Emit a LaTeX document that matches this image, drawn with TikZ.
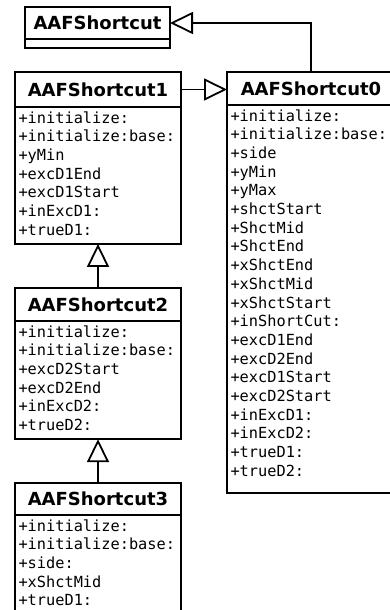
\documentclass[tikz,border=0pt]{standalone}
\usepackage{fontspec}
\usetikzlibrary{arrows.meta}
\newfontfamily\classfont{DejaVu Sans}
\newfontfamily\memberfont{DejaVu Sans Mono}

\begin{document}
\begin{tikzpicture}[x=1pt, y=-1pt,
    classname/.style={draw, line width=1.8pt, inner sep=0pt, outer sep=0pt, anchor=north west,
        font=\classfont\bfseries\fontsize{18}{21}\selectfont},
    members/.style={draw, line width=1.8pt, outer sep=0pt, anchor=north west, align=left,
        inner xsep=3.5pt, inner ysep=3pt,
        font=\memberfont\fontsize{15.3}{18.7}\selectfont,
        execute at begin node=\strut, execute at end node=\strut},
    inherit/.style={line width=1.8pt, -{Triangle[open, length=23pt, width=22pt]}}]

\useasboundingbox (0,0) rectangle (390,610);
\clip (0,0) rectangle (390,610);

% base class
\node[classname, minimum width=145pt, minimum height=32pt] (base) at (25,7) {AAFShortcut};
\node[draw, line width=1.8pt, outer sep=0pt, anchor=north west, inner sep=0pt,
    minimum width=145pt, minimum height=9pt] (baseattr) at (base.south west) {};

% AAFShortcut0
\node[classname, minimum width=168pt, minimum height=33pt] (c0) at (227,72) {AAFShortcut0};
\node[members, text width=161pt] (c0attr) at (c0.south west)
    {+initialize:\\+initialize:base:\\+side\\+yMin\\+yMax\\+shctStart\\+ShctMid\\+ShctEnd\\
     +xShctEnd\\+xShctMid\\+xShctStart\\+inShortCut:\\+excD1End\\+excD2End\\+excD1Start\\
     +excD2Start\\+inExcD1:\\+inExcD2:\\+trueD1:\\+trueD2:\rule[-14pt]{0pt}{0pt}};

% AAFShortcut1
\node[classname, minimum width=166pt, minimum height=35pt] (c1) at (15,72) {AAFShortcut1};
\node[members, text width=159pt] (c1attr) at (c1.south west)
    {+initialize:\\+initialize:base:\\+yMin\\+excD1End\\+excD1Start\\+inExcD1:\\+trueD1:};

% AAFShortcut2
\node[classname, minimum width=166pt, minimum height=33pt] (c2) at (15,288) {AAFShortcut2};
\node[members, text width=159pt] (c2attr) at (c2.south west)
    {+initialize:\\+initialize:base:\\+excD2Start\\+excD2End\\+inExcD2:\\+trueD2:};

% AAFShortcut3
\node[classname, minimum width=166pt, minimum height=32pt] (c3) at (15,483) {AAFShortcut3};
\node[members, text width=159pt] (c3attr) at (c3.south west)
    {+initialize:\\+initialize:base:\\+side:\\+xShctMid\\+trueD1:};

% generalizations
\draw[inherit] (c0.north) |- (base.east);
\draw[inherit] (c1.east) -- (c1.east -| c0.west);
\draw[inherit] (c2.north) -- (c1attr.south);
\draw[inherit] (c3.north) -- (c2attr.south);

\end{tikzpicture}
\end{document}
